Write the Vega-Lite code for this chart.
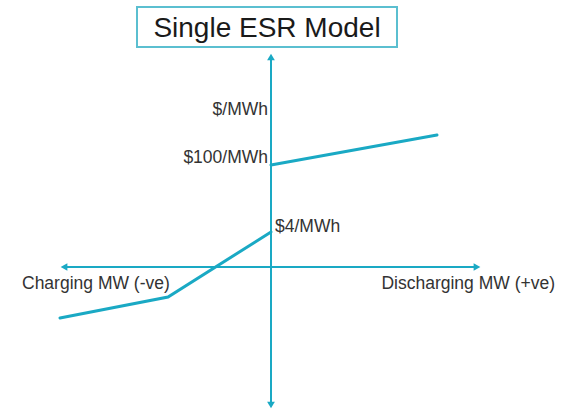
{
  "$schema": "https://vega.github.io/schema/vega-lite/v6.json",
  "width": 567,
  "height": 414,
  "padding": 0,
  "autosize": {"type": "fit", "contains": "padding"},
  "background": "white",
  "config": {"view": {"stroke": null}, "font": "Liberation Sans"},
  "datasets": {
    "curve": [
      {"seg": "charge", "mw": -211, "price": -51},
      {"seg": "charge", "mw": -103, "price": -30},
      {"seg": "charge", "mw": 0, "price": 35},
      {"seg": "discharge", "mw": 0, "price": 102},
      {"seg": "discharge", "mw": 166, "price": 132}
    ],
    "axes": [
      {"axis": "price", "x": 0, "y": 210, "x2": 0, "y2": -138},
      {"axis": "mw", "x": -207, "y": 0, "x2": 206, "y2": 0}
    ],
    "arrows": [
      {"dir": "up", "x": 0, "y": 210},
      {"dir": "down", "x": 0, "y": -138},
      {"dir": "left", "x": -207, "y": 0},
      {"dir": "right", "x": 206, "y": 0}
    ],
    "titlebox": [
      {"x": -134, "x2": 126, "y": 260, "y2": 220, "label": "Single ESR Model", "cx": -4, "cy": 238}
    ],
    "labels": [
      {"text": "$/MWh", "x": -3, "y": 157, "anchor": "right"},
      {"text": "$100/MWh", "x": -3, "y": 109, "anchor": "right"},
      {"text": "$4/MWh", "x": 4, "y": 40, "anchor": "left"},
      {"text": "Charging MW (-ve)", "x": -249, "y": -17, "anchor": "left"},
      {"text": "Discharging MW (+ve)", "x": 284, "y": -17, "anchor": "right"}
    ]
  },
  "layer": [
    {
      "data": {"name": "axes"},
      "mark": {"type": "rule", "color": "#1aa9c4", "strokeWidth": 2},
      "encoding": {
        "x": {"field": "x", "type": "quantitative", "scale": {"domain": [-271, 296], "nice": false, "zero": false}, "axis": null},
        "x2": {"field": "x2"},
        "y": {"field": "y", "type": "quantitative", "scale": {"domain": [-147, 267], "nice": false, "zero": false}, "axis": null},
        "y2": {"field": "y2"}
      }
    },
    {
      "data": {"name": "arrows"},
      "mark": {"type": "point", "filled": true, "opacity": 1, "color": "#1aa9c4", "size": 60},
      "encoding": {
        "x": {"field": "x", "type": "quantitative"},
        "y": {"field": "y", "type": "quantitative"},
        "shape": {"field": "dir", "type": "nominal", "legend": null,
          "scale": {"domain": ["up", "down", "left", "right"], "range": ["triangle-up", "triangle-down", "triangle-left", "triangle-right"]}}
      }
    },
    {
      "data": {"name": "curve"},
      "mark": {"type": "line", "color": "#1aa9c4", "strokeWidth": 3, "strokeCap": "round", "strokeJoin": "miter"},
      "encoding": {
        "x": {"field": "mw", "type": "quantitative"},
        "y": {"field": "price", "type": "quantitative"},
        "detail": {"field": "seg"}
      }
    },
    {
      "data": {"name": "titlebox"},
      "mark": {"type": "rect", "fill": "white", "stroke": "#5bbfd0", "strokeWidth": 2},
      "encoding": {
        "x": {"field": "x", "type": "quantitative"},
        "x2": {"field": "x2"},
        "y": {"field": "y", "type": "quantitative"},
        "y2": {"field": "y2"}
      }
    },
    {
      "data": {"name": "titlebox"},
      "mark": {"type": "text", "fontSize": 28, "color": "#1a1a1a", "align": "center", "baseline": "middle"},
      "encoding": {
        "x": {"field": "cx", "type": "quantitative"},
        "y": {"field": "cy", "type": "quantitative"},
        "text": {"field": "label"}
      }
    },
    {
      "data": {"name": "labels"},
      "transform": [{"filter": "datum.anchor == 'right'"}],
      "mark": {"type": "text", "fontSize": 17.5, "color": "#333333", "align": "right", "baseline": "middle"},
      "encoding": {
        "x": {"field": "x", "type": "quantitative"},
        "y": {"field": "y", "type": "quantitative"},
        "text": {"field": "text"}
      }
    },
    {
      "data": {"name": "labels"},
      "transform": [{"filter": "datum.anchor == 'left'"}],
      "mark": {"type": "text", "fontSize": 17.5, "color": "#333333", "align": "left", "baseline": "middle"},
      "encoding": {
        "x": {"field": "x", "type": "quantitative"},
        "y": {"field": "y", "type": "quantitative"},
        "text": {"field": "text"}
      }
    }
  ]
}
